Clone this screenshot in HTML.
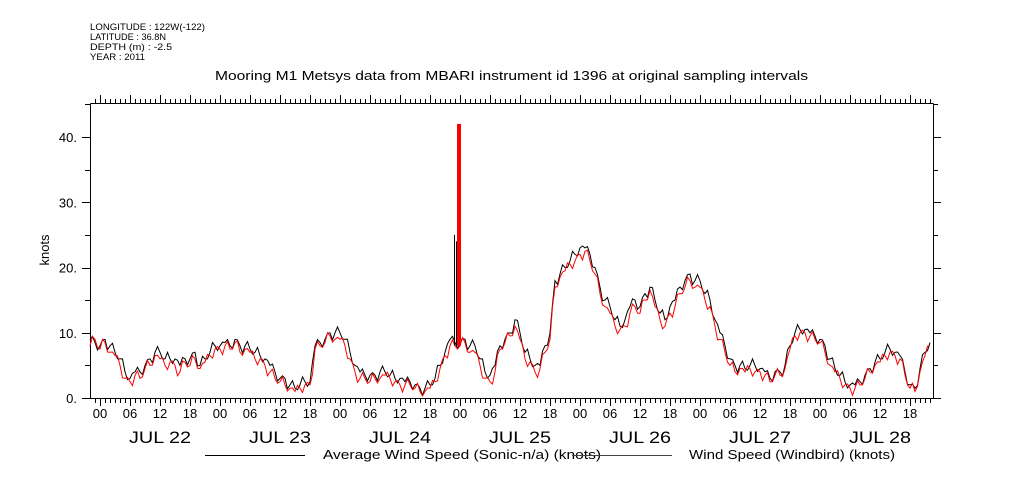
<!DOCTYPE html>
<html><head><meta charset="utf-8"><style>
body{margin:0;background:#fff;}
svg{display:block;font-family:"Liberation Sans",sans-serif;}
</style></head><body>
<svg id="chart" width="1009" height="504" viewBox="0 0 1009 504">
<g font-size="9" fill="#000">
<text x="90" y="30" textLength="115" lengthAdjust="spacingAndGlyphs">LONGITUDE : 122W(-122)</text>
<text x="90" y="40" textLength="76" lengthAdjust="spacingAndGlyphs">LATITUDE : 36.8N</text>
<text x="90" y="50" textLength="82" lengthAdjust="spacingAndGlyphs">DEPTH (m) : -2.5</text>
<text x="90" y="60" textLength="55" lengthAdjust="spacingAndGlyphs">YEAR : 2011</text>
</g>
<text x="215" y="80" textLength="593" lengthAdjust="spacingAndGlyphs" font-size="13">Mooring M1 Metsys data from MBARI instrument id 1396 at original sampling intervals</text>
<text transform="translate(49,250) rotate(-90)" text-anchor="middle" font-size="13">knots</text>
<g id="axes"></g>
<g id="series"></g>
<g font-size="13">
<line x1="205" y1="455.5" x2="305" y2="455.5" stroke="#000" stroke-width="1"/>
<text x="323" y="459" textLength="278" lengthAdjust="spacingAndGlyphs">Average Wind Speed (Sonic-n/a) (knots)</text>
<line x1="572" y1="455.5" x2="672" y2="455.5" stroke="#444" stroke-width="1"/>
<text x="689" y="459" textLength="206" lengthAdjust="spacingAndGlyphs">Wind Speed (Windbird) (knots)</text>
</g>
</svg>
<script>
// hourly data starting at hour -2 (Jul 21 22:00)
const startHour = -2;
const blackVals = [9,8.5,
8,9,8,7,6,4,3,4,4,5,6,7,7,6,6,6,5,6,6,7,5,6,7,8,
8,8.5,8,9,8,8,7.5,7,6.5,6,5,4,3,3,2,1.5,2,2.5,2.5,8,8.5,9,10,10,
10,9,7,5,4,3.5,3.5,3.5,4,4,3.5,3,3,2.5,2.5,2,1.5,1.5,2,3,5,7,9,8.5,
8.5,9,8,8,6,4,3.5,5,8,9,10,12,10,7,6,5,5,8,10,18,19,20,21,22,
23,23,22,20,17,15,14,12,11,12,14,15,14,16,17,15,13,12,14,15,17,18,19,18,
18,16,15,12,10,8,6,5,5,4.5,5,5,4.5,4,3,4,4,5,8,10,10.5,10.5,10,9.5,
9,8,6,4.5,3.5,2.5,2,2,2.5,3.5,4.5,5.5,6,7,7.5,7,6.5,4,2,1.5,4.5,7,8.5];
const redVals = [8,9,
7.5,8.5,7,6.5,5,3,2.5,3.5,3,4.5,5,6.5,6,5,5.5,5,4,5.5,5,6,4.5,5.5,6.5,7.5,
7.5,8,7.5,8.5,7,7.5,7,6,6,5,4,3,2.5,2,1.5,1,1.5,2,2,7.5,8,8.5,9.5,9,
9,8,6,4,3,3,2.5,3,3,3.5,3,2.5,2,2,2,1.5,1,1,1.5,2.5,4.5,6.5,8,8,
8,8.5,7,7,5,3,2.5,4,7.5,8.5,9.5,11,9,6,5.5,4,4.5,7,9,17,18.5,19.5,20.5,21,
22,22.5,21,19,16,14,13,11,10.5,11,13,14,13,15,16.5,14,12,11,13,14,16,17,18,17,
17,15,14,11,9,7,5,4,4.5,4,4.5,4,4,3.5,2.5,3.5,3.5,4.5,7.5,9.5,10,10,9.5,9,
8.5,7,5,4,3,2,1.5,1.5,2,3,4,5,5.5,6.5,7,6.5,6,3.5,1.5,1,4,6.5,8];
// half-hour fluctuation offsets (knots)
const halfOffsets = [0.7,-0.9,0.4,-1.1,0.9,-0.5,1.0,-0.7,0.3];
const spikeHour = [71.4, 71.8];
const spikeBlack = [25, 24];
const spikeRed = [42, 42];
const yTicks = [0,10,20,30,40];
const yTickLabels = ["0.","10.","20.","30.","40."];
const dayLabels = ["JUL 22","JUL 23","JUL 24","JUL 25","JUL 26","JUL 27","JUL 28"];
const hourLabels = ["00","06","12","18"];

const L=90,R=933,T=103,B=398;
const xs = h => 100 + h*5;
const ys = v => B - v*6.525;
const NS="http://www.w3.org/2000/svg";
function mk(tag, attrs, parent){const e=document.createElementNS(NS,tag);for(const k in attrs)e.setAttribute(k,attrs[k]);parent.appendChild(e);return e;}
const axes=document.getElementById('axes');
const frame=mk('path',{d:`M${L+.5},${T+.5}H${R+.5}M${L+.5},${T+.5}V${B+.5}H${R+.5}V${T+.5}`,stroke:'#000',fill:'none','stroke-width':1},axes);


for(let h=-1; xs(h)<=R; h++){
  const x=xs(h)+0.5, major=((h%6)+6)%6===0;
  const tb=mk('line',{x1:x,y1:B,x2:x,y2:B+(major?8:5),stroke:'#000'},axes);
  
  
  const tt=mk('line',{x1:x,y1:T,x2:x,y2:T-(major?8:4),stroke:'#000'},axes);
  
  
  if(h>=0 && h%6===0){
    const t=mk('text',{x:xs(h),y:B+20,'text-anchor':'middle','font-size':13},axes);
    t.textContent=hourLabels[(h/6)%4];
    
    
  }
}
dayLabels.forEach((d,i)=>{
  const t=mk('text',{x:xs(i*24+12)-31,y:B+45,'font-size':17,textLength:62,lengthAdjust:'spacingAndGlyphs'},axes);
  t.textContent=d;
  
  
});
for(let v=0; v<=45; v+=5){
  const y=Math.round(ys(v))+0.5, major=v%10===0;
  const a=mk('line',{x1:L-(major?8:5),y1:y,x2:L,y2:y,stroke:'#000'},axes);
  
  
  const b=mk('line',{x1:R,y1:y,x2:R+(major?8:5),y2:y,stroke:'#000'},axes);
  
  
}
yTicks.forEach((v,i)=>{
  const t=mk('text',{x:L-13,y:ys(v)+5,'text-anchor':'end','font-size':13},axes);
  t.textContent=yTickLabels[i];
  
  
});
const ser=document.getElementById('series');
function pts(vals, phase){
  const out=[];
  vals.forEach((v,i)=>{
    out.push(xs(startHour+i).toFixed(1)+','+ys(v).toFixed(1));
    if(i<vals.length-1){
      const mid=(v+vals[i+1])/2+halfOffsets[(i+phase)%halfOffsets.length];
      out.push(xs(startHour+i+0.5).toFixed(1)+','+ys(Math.max(0.3,mid)).toFixed(1));
    }
  });
  return out.join(' ');
}
const lb=mk('polyline',{points:pts(blackVals,0),fill:'none',stroke:'#000','stroke-width':1},ser);


const lr=mk('polyline',{points:pts(redVals,4),fill:'none',stroke:'#f00','stroke-width':1},ser);


spikeHour.forEach((h,i)=>{
  const x=Math.round(xs(h));
  const b=mk('rect',{x:x-3,y:ys(spikeBlack[i]),width:1,height:ys(8)-ys(spikeBlack[i]),fill:'#000'},ser);
  
  
});
spikeHour.forEach((h,i)=>{
  const x=Math.round(xs(h));
  const r=mk('rect',{x:x,y:ys(spikeRed[i]),width:2,height:ys(8)-ys(spikeRed[i]),fill:'#ff0000'},ser);
  
  
});
</script>
</body></html>
